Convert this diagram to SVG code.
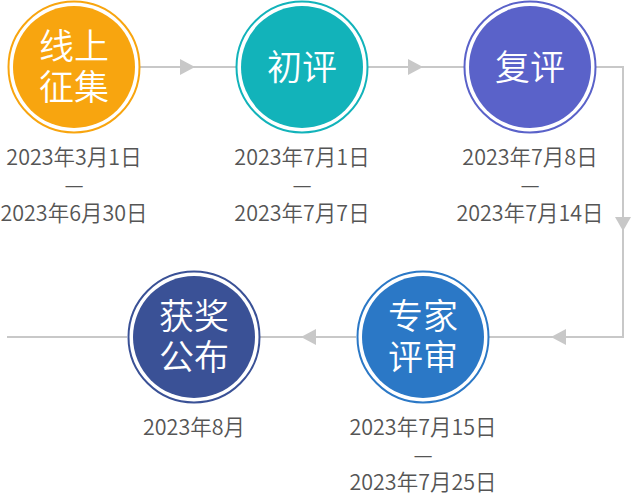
<svg xmlns="http://www.w3.org/2000/svg" width="631" height="494" viewBox="0 0 631 494">
<defs>
<style>
.ring{fill:none;stroke-width:2}
.lbl{font-family:"Noto Sans CJK SC","Noto Sans",sans-serif;font-size:35px;font-weight:350;fill:#fff;text-anchor:middle}
.date{font-family:"Noto Sans CJK SC","Noto Sans",sans-serif;font-size:21.5px;font-weight:350;fill:#555;text-anchor:middle}
.ln{fill:none;stroke:#c8c8c8;stroke-width:2}
.ah{fill:#c8c8c8}
</style>
</defs>
<rect width="631" height="494" fill="#fff"/>
<g id="connectors">
<path class="ln" d="M140 67H236"/>
<polygon class="ah" points="180,59 195,67 180,75"/>
<path class="ln" d="M368 67H464"/>
<polygon class="ah" points="408,59 423,67 408,75"/>
<path class="ln" d="M596 67H623V337H489"/>
<polygon class="ah" points="615,217 631,217 623,231"/>
<polygon class="ah" points="566,329 551,337 566,345"/>
<path class="ln" d="M356 337H260"/>
<polygon class="ah" points="316,329 301,337 316,345"/>
<path class="ln" d="M127 337H7"/>
</g>
<g id="n1">
<circle class="ring" cx="74" cy="67" r="65.5" stroke="#f8a50f"/>
<circle cx="74" cy="67" r="61" fill="#f8a50f"/>
<text class="lbl" x="74" y="59">线上</text>
<text class="lbl" x="74" y="100">征集</text>
<text class="date" x="74" y="165">2023年3月1日</text>
<text class="date" x="74" y="193">—</text>
<text class="date" x="74" y="221">2023年6月30日</text>
</g>
<g id="n2">
<circle class="ring" cx="302" cy="67" r="65.5" stroke="#12b3ba"/>
<circle cx="302" cy="67" r="61" fill="#12b3ba"/>
<text class="lbl" x="302" y="80">初评</text>
<text class="date" x="302" y="165">2023年7月1日</text>
<text class="date" x="302" y="193">—</text>
<text class="date" x="302" y="221">2023年7月7日</text>
</g>
<g id="n3">
<circle class="ring" cx="530" cy="67" r="65.5" stroke="#5a62c9"/>
<circle cx="530" cy="67" r="61" fill="#5a62c9"/>
<text class="lbl" x="530" y="80">复评</text>
<text class="date" x="530" y="165">2023年7月8日</text>
<text class="date" x="530" y="193">—</text>
<text class="date" x="530" y="221">2023年7月14日</text>
</g>
<g id="n4">
<circle class="ring" cx="423" cy="337" r="65.5" stroke="#2b78c6"/>
<circle cx="423" cy="337" r="61" fill="#2b78c6"/>
<text class="lbl" x="423" y="329">专家</text>
<text class="lbl" x="423" y="370">评审</text>
<text class="date" x="423" y="435">2023年7月15日</text>
<text class="date" x="423" y="463">—</text>
<text class="date" x="423" y="490">2023年7月25日</text>
</g>
<g id="n5">
<circle class="ring" cx="194" cy="337" r="65.5" stroke="#3a5196"/>
<circle cx="194" cy="337" r="61" fill="#3a5196"/>
<text class="lbl" x="194" y="329">获奖</text>
<text class="lbl" x="194" y="370">公布</text>
<text class="date" x="194" y="435">2023年8月</text>
</g>
</svg>
